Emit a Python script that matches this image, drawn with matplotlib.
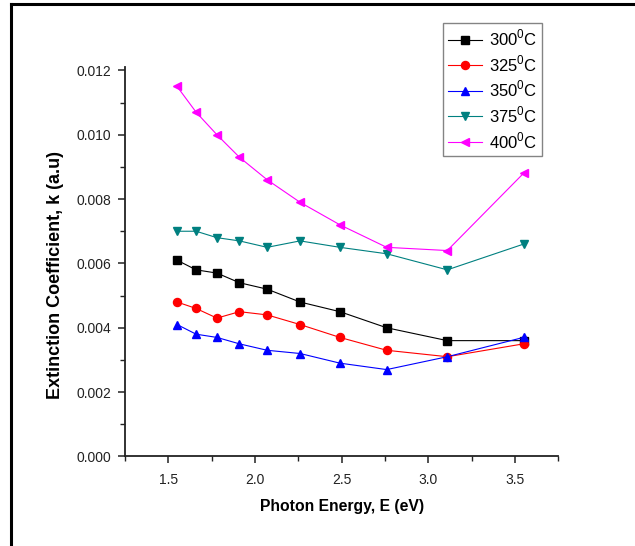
import matplotlib
matplotlib.use("Agg")
import matplotlib.pyplot as plt
from matplotlib.lines import Line2D
from matplotlib.ticker import MultipleLocator, FormatStrFormatter

plt.rcParams['font.family'] = ['Liberation Sans', 'DejaVu Sans']
plt.rcParams['mathtext.fontset'] = 'custom'
plt.rcParams['mathtext.rm'] = 'Liberation Sans'

# Photon energy (eV)
energy = [1.55, 1.66, 1.78, 1.91, 2.07, 2.26, 2.49, 2.76, 3.11, 3.55]

# Extinction coefficient for each annealing temperature
k_300 = [0.0061, 0.0058, 0.0057, 0.0054, 0.0052, 0.0048, 0.0045, 0.0040, 0.0036, 0.0036]
k_325 = [0.0048, 0.0046, 0.0043, 0.0045, 0.0044, 0.0041, 0.0037, 0.0033, 0.0031, 0.0035]
k_350 = [0.0041, 0.0038, 0.0037, 0.0035, 0.0033, 0.0032, 0.0029, 0.0027, 0.0031, 0.0037]
k_375 = [0.0070, 0.0070, 0.0068, 0.0067, 0.0065, 0.0067, 0.0065, 0.0063, 0.0058, 0.0066]
k_400 = [0.0115, 0.0107, 0.0100, 0.0093, 0.0086, 0.0079, 0.0072, 0.0065, 0.0064, 0.0088]

labels = ['300', '325', '350', '375', '400']
series = [k_300, k_325, k_350, k_375, k_400]
colors = ['#000000', '#ff0000', '#0000ff', '#008080', '#ff00ff']
markers = ['s', 'o', '^', 'v', '<']
msizes = [5.3, 5.8, 6.2, 6.2, 6.2]

fig = plt.figure(figsize=(6.35, 5.46), dpi=100)
ax = fig.add_axes([0.197, 0.164, 0.682, 0.713])

for lab, ys, c, m, ms in zip(labels, series, colors, markers, msizes):
    ax.plot(energy, ys, color=c, lw=0.8, marker=m, markersize=ms,
            markeredgecolor=c, markerfacecolor=c,
            label=lab + r'$^{\mathregular{0}}$C')

ax.set_xlim(1.25, 3.75)
ax.set_ylim(0, 0.0121)
ax.xaxis.set_major_locator(MultipleLocator(0.5))
ax.xaxis.set_minor_locator(MultipleLocator(0.25))
ax.yaxis.set_major_locator(MultipleLocator(0.002))
ax.yaxis.set_minor_locator(MultipleLocator(0.001))
ax.xaxis.set_major_formatter(FormatStrFormatter('%.1f'))
ax.yaxis.set_major_formatter(FormatStrFormatter('%.3f'))

for s in ('top', 'right'):
    ax.spines[s].set_visible(False)
for s in ('left', 'bottom'):
    ax.spines[s].set_linewidth(1.3)
    ax.spines[s].set_color('#222222')

ax.tick_params(which='major', direction='out', length=5, width=1.1,
               labelsize=10, colors='#222222', pad=5)
ax.tick_params(axis='x', which='major', pad=7)
ax.tick_params(which='minor', direction='out', length=3.5, width=1.0,
               colors='#222222')

ax.set_xlabel('Photon Energy, E (eV)', fontsize=11.3, fontweight='bold')
ax.xaxis.set_label_coords(0.5, -0.11)
ax.set_ylabel('Extinction Coefficient, k (a.u)', fontsize=13, fontweight='bold')
ax.yaxis.set_label_coords(-0.14, 0.466)

leg = fig.legend(loc='upper left', bbox_to_anchor=(0.698, 0.958),
                 fontsize=12, frameon=True, fancybox=False,
                 handlelength=2.0, handletextpad=0.45, labelspacing=0.3,
                 borderpad=0.3, borderaxespad=0)
leg.get_frame().set_edgecolor('#666666')
leg.get_frame().set_linewidth(1.0)

# page frame lines
fig.add_artist(Line2D([11 / 635, 11 / 635], [0, 1 - 4 / 546], color='black', lw=2.2,
                      transform=fig.transFigure))
fig.add_artist(Line2D([11 / 635, 1], [1 - 4 / 546, 1 - 4 / 546], color='black', lw=2.2,
                      transform=fig.transFigure))

fig.savefig('out.png', dpi=100)
